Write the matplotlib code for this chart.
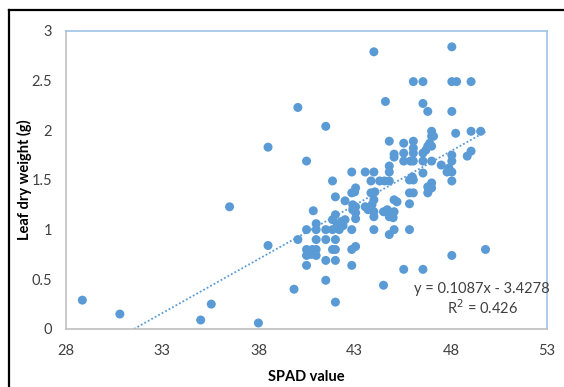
import matplotlib
matplotlib.use('Agg')
import numpy as np
import matplotlib.pyplot as plt
from matplotlib.lines import Line2D

# SPAD readings and leaf dry weight (g)
spad = [28.85, 30.8, 35.0, 35.55, 38.0, 36.5, 38.5, 38.5, 39.85, 40.05, 40.05, 40.5, 40.5, 40.5,
        40.5, 40.5, 40.75, 40.8, 40.85, 41.0, 41.0, 41.0, 41.0, 41.0, 40.7,
        41.5, 41.5, 41.5, 41.5, 41.5,
        41.85, 42.0, 42.0, 42.0, 42.0, 42.0, 41.85, 41.85, 41.85, 42.0, 42.1, 42.2, 42.3, 42.5, 42.5, 42.4,
        42.85, 42.85, 43.05, 42.85, 42.85, 43.05, 42.85, 43.05, 43.05, 43.05, 42.9, 42.9, 43.0,
        43.55, 43.55, 43.7, 43.85, 43.85, 44.0, 44.0, 44.0, 44.0, 44.0, 44.0, 43.9, 44.05,
        44.3, 44.5, 44.6, 44.5, 44.55,
        44.8, 44.8, 44.8, 44.8, 44.8, 44.8, 44.7,
        45.05, 45.05, 45.05, 45.05, 45.05, 45.2, 45.0,
        45.55, 45.55, 45.55, 45.55,
        45.85, 45.85, 45.85, 45.85, 46.05, 46.05, 46.05, 46.05, 46.05, 46.05, 46.05, 45.9, 46.0,
        46.55, 46.55, 46.55, 46.55, 46.55, 46.55, 46.7,
        46.8, 46.8, 46.8, 46.8, 47.0, 47.0, 47.0, 47.0, 47.0, 47.0, 47.1, 46.9, 46.85,
        47.5, 47.8, 48.05, 48.05, 48.3, 48.05, 48.25, 48.05, 48.05, 48.05, 48.05, 48.05, 47.9,
        49.05, 49.05, 48.85, 49.05, 49.55, 49.8]
weight = [0.29, 0.15, 0.09, 0.25, 0.06, 1.23, 1.83, 0.84, 0.40, 2.23, 0.90, 1.69, 1.0, 0.64,
          0.80, 0.74, 0.75, 0.80, 1.19, 1.06, 1.0, 0.90, 0.80, 0.74, 0.78,
          2.04, 1.0, 0.90, 0.69, 0.49,
          1.49, 1.33, 0.27, 0.69, 0.90, 0.80, 0.80, 1.10, 1.0, 1.15, 1.05, 1.0, 1.08, 1.29, 1.10, 1.04,
          1.58, 1.37, 1.42, 1.0, 0.80, 0.83, 0.64, 1.23, 1.17, 1.11, 1.25, 1.20, 1.38,
          1.58, 1.23, 1.20, 1.49, 1.37, 2.79, 1.58, 1.30, 1.18, 1.13, 1.0, 1.25, 1.38,
          1.49, 0.44, 2.29, 1.18, 1.49,
          1.89, 1.64, 1.58, 1.49, 1.13, 0.95, 1.20,
          1.76, 1.73, 1.30, 1.18, 1.0, 1.28, 1.12,
          0.60, 1.87, 1.77, 1.69,
          1.0, 1.26, 1.37, 1.50, 2.49, 1.89, 1.82, 1.77, 1.69, 1.50, 1.37, 1.69, 1.53,
          2.49, 2.27, 0.60, 1.57, 1.77, 1.69, 1.80,
          2.19, 1.84, 1.37, 1.43, 1.99, 1.94, 1.84, 1.69, 1.47, 1.42, 1.94, 1.87, 1.40,
          1.65, 1.58, 2.84, 2.49, 2.49, 2.19, 1.97, 1.75, 1.69, 1.58, 1.49, 0.74, 1.62,
          2.49, 1.99, 1.74, 1.79, 1.99, 0.80]

# linear trendline shown on the chart
slope = 0.1087
intercept = -3.4278
eq_text = 'y = 0.1087x - 3.4278'
r2_text = 'R$^2$ = 0.426'

x_ticks = [28, 33, 38, 43, 48, 53]
y_ticks = [0, 0.5, 1, 1.5, 2, 2.5, 3]

plt.rcParams['font.family'] = ['Lato', 'DejaVu Sans']

fig = plt.figure(figsize=(5.64, 3.87), dpi=100)
ax = fig.add_axes([0.117, 0.150, 0.853, 0.770])

ax.scatter(spad, weight, s=42, color='#5B9BD5', edgecolors='none', zorder=3)

# trendline from the data range, cut at y = 0
x0 = max(min(spad), -intercept / slope)
tx = np.array([x0, max(spad)])
ax.plot(tx, slope * tx + intercept, linestyle=(0, (1, 1.2)), color='#5B9BD5', linewidth=1.3, zorder=2)

ax.text(0.865, 0.134, eq_text, transform=ax.transAxes, ha='center', va='center', fontsize=10.5, color='#404040')
ax.text(0.865, 0.070, r2_text, transform=ax.transAxes, ha='center', va='center', fontsize=10.5, color='#404040')

ax.set_xlim(28, 53)
ax.set_ylim(0, 3)
ax.set_xticks(x_ticks)
ax.set_yticks(y_ticks)
ax.set_yticklabels(['0', '0.5', '1', '1.5', '2', '2.5', '3'])
ax.tick_params(length=0, labelsize=10.5, labelcolor='#404040')
ax.tick_params(axis='y', pad=10)
ax.tick_params(axis='x', pad=11)

for side in ['left', 'bottom']:
    ax.spines[side].set_color('#BFBFBF')
for side in ['top', 'right']:
    ax.spines[side].set_color('#9DC3E6')
for s in ax.spines.values():
    s.set_linewidth(1.2)

ax.set_xlabel('SPAD value', fontsize=10.5, fontweight='bold')
ax.set_ylabel('Leaf dry weight (g)', fontsize=10.5, fontweight='bold')
ax.xaxis.set_label_coords(0.5, -0.138)
ax.yaxis.set_label_coords(-0.070, 0.5)

# black outer frame, cut off at right and bottom
fig.add_artist(Line2D([0.016, 0.016], [0, 0.974], color='black', linewidth=1.6, transform=fig.transFigure))
fig.add_artist(Line2D([0.016, 1], [0.974, 0.974], color='black', linewidth=1.6, transform=fig.transFigure))

fig.savefig('out.png', dpi=100)
